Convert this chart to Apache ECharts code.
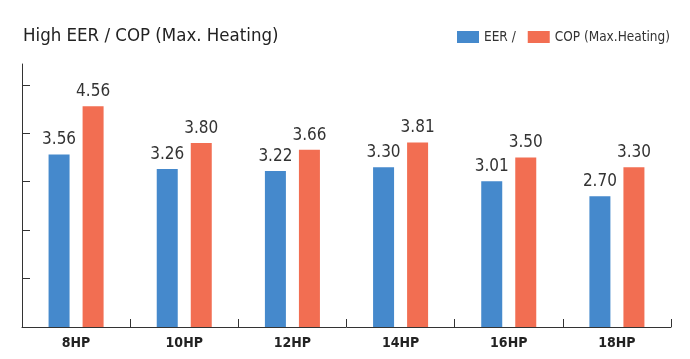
<!DOCTYPE html>
<html>
<head>
<meta charset="utf-8">
<script src="https://cdn.jsdelivr.net/npm/echarts@6/dist/echarts.min.js"></script>
<style>
html,body{margin:0;padding:0;background:#fff;}
#c{width:690px;height:359px;}
</style>
</head>
<body>
<div id="c"></div>
<script>
const categories = ['8HP', '10HP', '12HP', '14HP', '16HP', '18HP'];
const eerValues = [3.56, 3.26, 3.22, 3.30, 3.01, 2.70];
const copValues = [4.56, 3.80, 3.66, 3.81, 3.50, 3.30];
const seriesNames = ['EER /', 'COP (Max.Heating)'];
const yTicks = [1, 2, 3, 4, 5];

const FONT = '"Liberation Sans Narrow", "DejaVu Sans Condensed", "Noto Sans", sans-serif';
const chart = echarts.init(document.getElementById('c'), null, {renderer: 'canvas'});
chart.setOption({
  animation: false,
  backgroundColor: '#ffffff',
  title: {
    text: 'High EER / COP (Max. Heating)',
    left: 18, top: 22,
    textStyle: {fontFamily: FONT, fontSize: 18.5, fontWeight: 'normal', color: '#222'}
  },
  legend: {
    right: 15, top: 25,
    itemWidth: 22, itemHeight: 12, itemGap: 12,
    icon: 'rect',
    textStyle: {fontFamily: FONT, fontSize: 13.5, color: '#333', padding: [0,0,0,0]},
    data: seriesNames
  },
  grid: {left: 22, right: 19, top: 64, bottom: 32, containLabel: false},
  xAxis: {
    type: 'category',
    data: categories,
    boundaryGap: true,
    axisLine: {lineStyle: {color: '#333', width: 1}},
    axisTick: {show: true, inside: true, length: 8, lineStyle: {color: '#333'}},
    axisLabel: {fontFamily: FONT, fontSize: 14, fontWeight: 'bold', color: '#222', margin: 9}
  },
  yAxis: {
    type: 'value',
    min: 0, max: 5.43,
    axisLine: {show: true, lineStyle: {color: '#333', width: 1}},
    axisTick: {show: true, inside: true, length: 8, lineStyle: {color: '#333'}, customValues: yTicks},
    axisLabel: {show: false},
    splitLine: {show: false}
  },
  series: [
    {
      name: seriesNames[0], type: 'bar', data: eerValues,
      barWidth: 21, barGap: '62%',
      itemStyle: {color: '#4589cc'},
      label: {show: true, position: 'top', distance: 6, formatter: p => p.value.toFixed(2),
        fontFamily: FONT, fontSize: 17, color: '#333'}
    },
    {
      name: seriesNames[1], type: 'bar', data: copValues,
      barWidth: 21, barGap: '62%',
      itemStyle: {color: '#f26e52'},
      label: {show: true, position: 'top', distance: 6, formatter: p => p.value.toFixed(2),
        fontFamily: FONT, fontSize: 17, color: '#333'}
    }
  ]
});
</script>
</body>
</html>
